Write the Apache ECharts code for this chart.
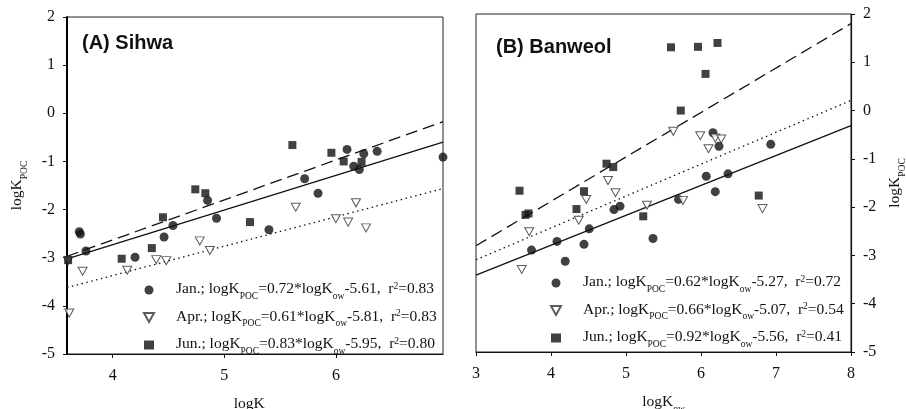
<!DOCTYPE html>
<html>
<head>
<meta charset="utf-8">
<script src="https://cdn.jsdelivr.net/npm/echarts@6/dist/echarts.min.js"></script>
<style>
  html, body { margin: 0; padding: 0; background: #fff; }
  #main { width: 906px; height: 409px; }
</style>
</head>
<body>
<div id="main"></div>
<script>
// (A) Sihwa — [logKow, logKpoc]
var sihwaJan = [[3.70,-2.46],[3.71,-2.51],[3.76,-2.86],[4.20,-2.99],[4.46,-2.57],[4.54,-2.33],[4.85,-1.81],[4.93,-2.18],[5.40,-2.42],[5.72,-1.36],[5.84,-1.66],[6.10,-0.75],[6.16,-1.10],[6.21,-1.17],[6.25,-0.84],[6.37,-0.79],[6.96,-0.91]];
var sihwaApr = [[3.60,-3.06],[3.61,-4.15],[3.73,-3.28],[4.13,-3.26],[4.39,-3.04],[4.48,-3.06],[4.78,-2.65],[4.87,-2.85],[5.64,-1.95],[6.00,-2.19],[6.11,-2.26],[6.18,-1.86],[6.27,-2.38]];
var sihwaJun = [[3.60,-3.05],[4.08,-3.02],[4.35,-2.80],[4.45,-2.16],[4.74,-1.58],[4.83,-1.66],[5.23,-2.26],[5.61,-0.66],[5.96,-0.82],[6.07,-1.00],[6.23,-1.01]];

// (B) Banweol
var banJan = [[3.74,-2.89],[4.08,-2.71],[4.19,-3.12],[4.44,-2.77],[4.51,-2.45],[4.84,-2.05],[4.92,-1.98],[5.36,-2.65],[5.70,-1.84],[6.07,-1.36],[6.16,-0.46],[6.19,-1.68],[6.24,-0.74],[6.36,-1.31],[6.93,-0.70]];
var banApr = [[3.61,-3.29],[3.71,-2.51],[4.37,-2.27],[4.47,-1.84],[4.76,-1.45],[4.86,-1.70],[5.28,-1.96],[5.63,-0.43],[5.76,-1.86],[5.99,-0.52],[6.10,-0.79],[6.19,-0.57],[6.27,-0.59],[6.82,-2.03]];
var banJun = [[3.58,-1.66],[3.66,-2.16],[3.70,-2.13],[4.34,-2.04],[4.44,-1.67],[4.74,-1.10],[4.83,-1.17],[5.23,-2.19],[5.60,1.31],[5.73,0.00],[5.96,1.32],[6.06,0.76],[6.22,1.40],[6.77,-1.76]];

// regression fits, order Jan, Apr, Jun
var months = ['Jan.', 'Apr.', 'Jun.'];
var sihwaSlope = [0.72, 0.61, 0.83];
var sihwaIntercept = [-5.61, -5.81, -5.95];
var sihwaR2 = ['0.83', '0.83', '0.80'];
var banSlope = [0.62, 0.66, 0.92];
var banIntercept = [-5.27, -5.07, -5.56];
var banR2 = ['0.72', '0.54', '0.41'];

var sihwaXRange = [3.59, 6.96];
var banXRange = [3, 8];
var sihwaXTicks = [4, 5, 6];
var yRange = [-5, 2];

var serif = 'Liberation Serif';
var ink = '#111';
var triPath = 'path://M0,0L10,0L5,9Z';

var rich = {
  m: { fontFamily: serif, fontSize: 15.5, color: ink, lineHeight: 18, verticalAlign: 'top' },
  s: { fontFamily: serif, fontSize: 9.5, color: ink, lineHeight: 10, padding: [10, 0, 0, 0], verticalAlign: 'top' },
  p: { fontFamily: serif, fontSize: 9.5, color: ink, lineHeight: 10, padding: [0, 0, 10, 0], verticalAlign: 'top' }
};

function fitText(i, slopes, ints, r2) {
  return '{m|' + months[i] + '; logK}{s|POC}{m|=' + slopes[i].toFixed(2) + '*logK}{s|ow}{m|' +
    ints[i].toFixed(2) + ',  r}{p|2}{m|=' + r2[i] + '}';
}

function fitLine(slope, b, range) {
  return [[range[0], slope * range[0] + b], [range[1], slope * range[1] + b]];
}

var styles = [
  { symbol: 'circle', size: 9, item: { color: ink }, line: 'solid' },
  { symbol: triPath, size: [9, 8], item: { color: '#fff', borderColor: '#333', borderWidth: 1 }, line: [1.5, 3.5] },
  { symbol: 'rect', size: 8, item: { color: ink }, line: [12, 6] }
];

var sets = [
  { key: 'A', data: [sihwaJan, sihwaApr, sihwaJun], slope: sihwaSlope, b: sihwaIntercept, r2: sihwaR2, range: sihwaXRange },
  { key: 'B', data: [banJan, banApr, banJun], slope: banSlope, b: banIntercept, r2: banR2, range: banXRange }
];

var series = [];
var legendTexts = {};
sets.forEach(function (set, g) {
  for (var i = 0; i < 3; i++) {
    series.push({
      type: 'line', xAxisIndex: g, yAxisIndex: g, silent: true,
      data: fitLine(set.slope[i], set.b[i], set.range),
      symbol: 'none', z: 1,
      lineStyle: { color: ink, width: 1.3, type: styles[i].line }
    });
  }
  for (var j = 0; j < 3; j++) {
    var name = set.key + j;
    legendTexts[name] = fitText(j, set.slope, set.b, set.r2);
    series.push({
      type: 'scatter', name: name, xAxisIndex: g, yAxisIndex: g, z: 3,
      data: set.data[j], symbol: styles[j].symbol, symbolSize: styles[j].size,
      itemStyle: styles[j].item
    });
  }
});

function legendFor(key, left, top) {
  return {
    orient: 'vertical', left: left, top: top, itemWidth: 10, itemHeight: 9, itemGap: 7.5,
    padding: 0, selectedMode: false,
    data: [0, 1, 2].map(function (j) { return { name: key + j, icon: styles[j].symbol }; }),
    formatter: function (n) { return legendTexts[n]; },
    textStyle: { padding: [0, 0, 0, 17], rich: rich }
  };
}

var axisLabelStyle = { fontFamily: serif, fontSize: 16, color: ink };

var chart = echarts.init(document.getElementById('main'));
chart.setOption({
  backgroundColor: '#fff',
  animation: false,
  title: [
    { text: '(A) Sihwa', left: 82, top: 33, padding: 0, textStyle: { fontFamily: 'Liberation Sans', fontWeight: 'bold', fontSize: 20, color: ink } },
    { text: '(B) Banweol', left: 496, top: 37, padding: 0, textStyle: { fontFamily: 'Liberation Sans', fontWeight: 'bold', fontSize: 20, color: ink } }
  ],
  legend: [legendFor('A', 143, 281), legendFor('B', 550, 274)],
  grid: [
    { left: 67, top: 17, width: 376, height: 337, show: true, borderColor: '#222', borderWidth: 1, outerBoundsMode: 'none', containLabel: false },
    { left: 476, top: 14, width: 375, height: 338, show: true, borderColor: '#222', borderWidth: 1, outerBoundsMode: 'none', containLabel: false }
  ],
  xAxis: [
    {
      type: 'value', gridIndex: 0, min: sihwaXRange[0], max: sihwaXRange[1],
      name: '{m|logK}{s|ow}', nameLocation: 'middle', nameGap: 42, nameTextStyle: { rich: rich },
      axisLine: { onZero: false, lineStyle: { color: ink, width: 1.2 } },
      axisTick: { length: 4, lineStyle: { color: ink }, customValues: sihwaXTicks },
      axisLabel: Object.assign({ margin: 14, customValues: sihwaXTicks }, axisLabelStyle),
      splitLine: { show: false }
    },
    {
      type: 'value', gridIndex: 1, min: banXRange[0], max: banXRange[1], interval: 1,
      name: '{m|logK}{s|ow}', nameLocation: 'middle', nameGap: 42, nameTextStyle: { rich: rich },
      axisLine: { onZero: false, lineStyle: { color: ink, width: 1.2 } },
      axisTick: { length: 4, lineStyle: { color: ink } },
      axisLabel: Object.assign({ margin: 14 }, axisLabelStyle),
      splitLine: { show: false }
    }
  ],
  yAxis: [
    {
      type: 'value', gridIndex: 0, min: yRange[0], max: yRange[1], interval: 1,
      name: '{m|logK}{s|POC}', nameLocation: 'middle', nameGap: 40, nameRotate: 90, nameTextStyle: { rich: rich },
      axisLine: { onZero: false, lineStyle: { color: '#000', width: 2 } },
      axisTick: { length: 4, lineStyle: { color: ink } },
      axisLabel: Object.assign({ margin: 12 }, axisLabelStyle),
      splitLine: { show: false }
    },
    {
      type: 'value', gridIndex: 1, position: 'right', min: yRange[0], max: yRange[1], interval: 1,
      name: '{m|logK}{s|POC}', nameLocation: 'middle', nameGap: 36, nameRotate: 90, nameTextStyle: { rich: rich },
      axisLine: { onZero: false, lineStyle: { color: ink, width: 1.2 } },
      axisTick: { length: 4, lineStyle: { color: ink } },
      axisLabel: Object.assign({ margin: 12 }, axisLabelStyle),
      splitLine: { show: false }
    }
  ],
  series: series
});
</script>
</body>
</html>
